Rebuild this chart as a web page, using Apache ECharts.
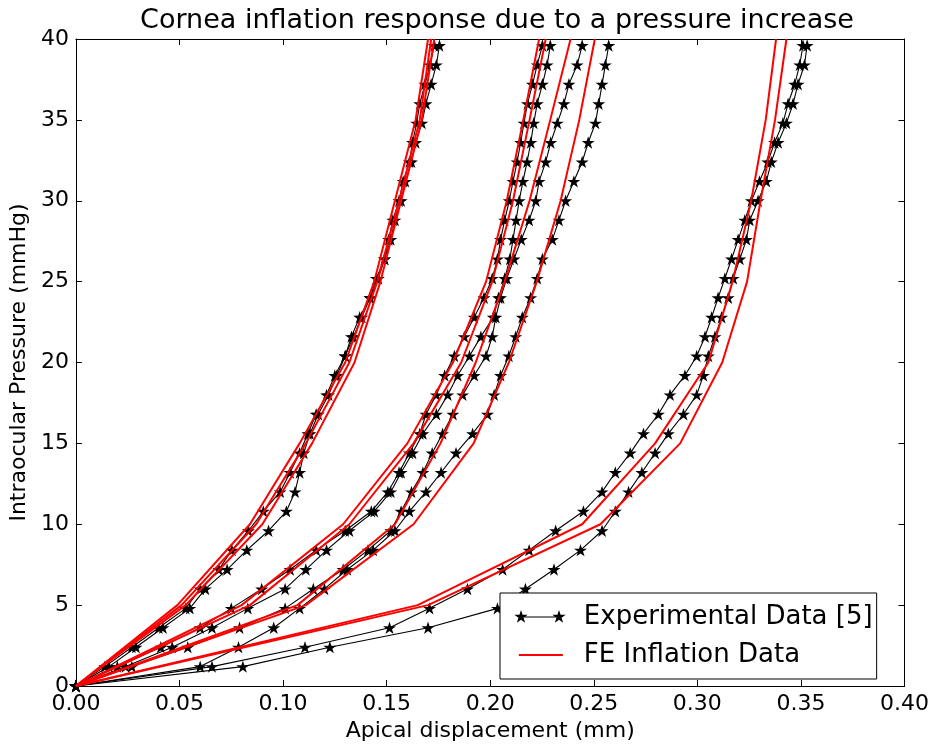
<!DOCTYPE html>
<html>
<head>
<meta charset="utf-8">
<title>Cornea inflation response</title>
<script src="https://cdn.jsdelivr.net/npm/echarts@6/dist/echarts.min.js"></script>
<style>
    html, body { margin: 0; padding: 0; background: #fff; }
    #chart { width: 932px; height: 747px; }
</style>
</head>
<body>
<div id="chart"></div>
<script>
// pressure steps of the experimental curves (mmHg)
const pressureLevels = [0, 1.2, 2.4, 3.6, 4.8, 6.0, 7.2, 8.4, 9.6, 10.8, 12.0, 13.2, 14.4, 15.6,
    16.8, 18.0, 19.2, 20.4, 21.6, 22.8, 24.0, 25.2, 26.4, 27.6, 28.8, 30.0, 31.2, 32.4, 33.6,
    34.8, 36.0, 37.2, 38.4, 39.6];

// experimental apical displacement (mm), one array per curve
const expA1 = [0, 0.014, 0.027, 0.040, 0.053, 0.060, 0.069, 0.0753, 0.0833, 0.0905, 0.0986, 0.1034,
    0.108, 0.112, 0.116, 0.121, 0.125, 0.130, 0.133, 0.137, 0.142, 0.145, 0.149, 0.151, 0.153,
    0.156, 0.158, 0.161, 0.1625, 0.1645, 0.166, 0.1685, 0.171, 0.173];
const expA2 = [0, 0.016, 0.029, 0.042, 0.055, 0.0625, 0.073, 0.0825, 0.093, 0.1016, 0.1058, 0.108,
    0.110, 0.113, 0.117, 0.122, 0.126, 0.130, 0.134, 0.138, 0.142, 0.146, 0.149, 0.152, 0.154,
    0.157, 0.159, 0.162, 0.164, 0.167, 0.169, 0.1715, 0.174, 0.1755];
const expB1 = [0, 0.020, 0.041, 0.060, 0.075, 0.0897, 0.1034, 0.116, 0.130, 0.1426, 0.1506, 0.156,
    0.161, 0.166, 0.169, 0.174, 0.178, 0.1827, 0.1875, 0.1923, 0.197, 0.201, 0.2035, 0.205, 0.207,
    0.2092, 0.211, 0.213, 0.2147, 0.2163, 0.218, 0.2204, 0.2227, 0.2252];
const expB2 = [0, 0.024, 0.0465, 0.0657, 0.083, 0.101, 0.111, 0.121, 0.132, 0.144, 0.152, 0.157,
    0.1625, 0.1675, 0.174, 0.1795, 0.1843, 0.190, 0.1955, 0.2015, 0.204, 0.207, 0.2095, 0.211,
    0.2125, 0.214, 0.2158, 0.2178, 0.2196, 0.221, 0.2227, 0.2252, 0.2275, 0.229];
const expB3 = [0, 0.027, 0.054, 0.079, 0.101, 0.1146, 0.129, 0.141, 0.152, 0.157, 0.162, 0.1675,
    0.172, 0.177, 0.182, 0.1867, 0.1923, 0.198, 0.201, 0.2027, 0.205, 0.208, 0.2115, 0.215,
    0.2188, 0.222, 0.2236, 0.2268, 0.2292, 0.2324, 0.2356, 0.238, 0.242, 0.2444];
const expB4 = [0, 0.060, 0.0785, 0.0955, 0.108, 0.120, 0.131, 0.1435, 0.154, 0.161, 0.169, 0.1763,
    0.1835, 0.1915, 0.1987, 0.2019, 0.205, 0.209, 0.2123, 0.2155, 0.2195, 0.2227, 0.2252, 0.230,
    0.2332, 0.2364, 0.2404, 0.2444, 0.2473, 0.2508, 0.2524, 0.254, 0.2556, 0.2572];
const expC1 = [0, 0.0657, 0.1106, 0.1514, 0.1707, 0.189, 0.206, 0.2188, 0.2316, 0.245, 0.254, 0.2604,
    0.2676, 0.274, 0.2812, 0.2868, 0.294, 0.2997, 0.3037, 0.3069, 0.310, 0.3133, 0.3165, 0.3197,
    0.3229, 0.3261, 0.330, 0.334, 0.3373, 0.3413, 0.3438, 0.347, 0.3494, 0.351];
const expC2 = [0, 0.0806, 0.1226, 0.170, 0.2035, 0.217, 0.2308, 0.2436, 0.254, 0.2604, 0.2668, 0.2732,
    0.2796, 0.286, 0.2933, 0.2997, 0.3029, 0.3053, 0.3085, 0.3117, 0.3149, 0.3173, 0.3205, 0.3237,
    0.3253, 0.3293, 0.3333, 0.3357, 0.339, 0.343, 0.3462, 0.3486, 0.3517, 0.353];

// FE model output, sampled every 5 mmHg
const feLevels = [0, 5, 10, 15, 20, 25, 30, 35, 40];
const feA1 = [0, 0.049, 0.084, 0.108, 0.130, 0.144, 0.154, 0.164, 0.170];
const feA2 = [0, 0.051, 0.087, 0.111, 0.132, 0.1455, 0.156, 0.166, 0.1715];
const feA3 = [0, 0.053, 0.090, 0.114, 0.1345, 0.147, 0.157, 0.167, 0.173];
const feB1 = [0, 0.080, 0.129, 0.160, 0.182, 0.198, 0.208, 0.216, 0.2236];
const feB2 = [0, 0.084, 0.132, 0.163, 0.186, 0.201, 0.211, 0.219, 0.2268];
const feB3 = [0, 0.107, 0.154, 0.176, 0.193, 0.207, 0.219, 0.229, 0.2388];
const feB4 = [0, 0.111, 0.163, 0.192, 0.209, 0.2225, 0.234, 0.243, 0.2505];
const feC1 = [0, 0.165, 0.2444, 0.2796, 0.3053, 0.317, 0.326, 0.333, 0.338];
const feC2 = [0, 0.170, 0.2532, 0.2917, 0.312, 0.324, 0.3305, 0.3375, 0.343];

const xTicks = [0, 0.05, 0.10, 0.15, 0.20, 0.25, 0.30, 0.35, 0.40];
const yTicks = [0, 5, 10, 15, 20, 25, 30, 35, 40];

const EXP_NAME = 'Experimental Data [5]';
const FE_NAME = 'FE Inflation Data';
const FONT = 'DejaVu Sans';

/**
 * 五角星路径，matplotlib 的 '*' marker
 */
function starPath(cx, cy, R) {
    const r = R * 0.382;
    let d = '';
    for (let k = 0; k < 10; k++) {
        const rad = k % 2 === 0 ? R : r;
        const a = (-90 + k * 36) * Math.PI / 180;
        const px = (cx + rad * Math.cos(a)).toFixed(3);
        const py = (cy + rad * Math.sin(a)).toFixed(3);
        d += (k === 0 ? 'M' : 'L') + px + ' ' + py + ' ';
    }
    return d + 'Z ';
}

const starSymbol = 'path://' + starPath(10, 10, 10);
// legend samples: star - line - star, and a plain red line
// (tiny triangles at top/bottom keep the path box the full icon height)
const boxKeep = 'M0 0 L0.01 0 L0.01 0.01 Z M0 14 L0.01 14 L0.01 13.99 Z ';
const legendStarIcon = 'path://' + boxKeep + starPath(7, 7, 7) + starPath(45, 7, 7)
    + 'M7 6.4 L45 6.4 L45 7.6 L7 7.6 Z';
const legendLineIcon = 'path://' + boxKeep + 'M2 6 L46 6 L46 8 L2 8 Z';

function drawChart() {
    const chart = echarts.init(document.getElementById('chart'), null, { renderer: 'canvas' });

    const seriesList = [];
    [expA1, expA2, expB1, expB2, expB3, expB4, expC1, expC2].forEach(xs => {
        seriesList.push({
            name: EXP_NAME,
            type: 'line',
            data: xs.map((x, i) => [x, pressureLevels[i]]),
            symbol: starSymbol,
            symbolSize: 13,
            symbolKeepAspect: true,
            showAllSymbol: true,
            lineStyle: { color: '#000', width: 1.1 },
            itemStyle: { color: '#000' },
            emphasis: { disabled: true },
            z: 2,
        });
    });
    [feA1, feA2, feA3, feB1, feB2, feB3, feB4, feC1, feC2].forEach(xs => {
        seriesList.push({
            name: FE_NAME,
            type: 'line',
            data: xs.map((x, i) => [x, feLevels[i]]),
            symbol: 'none',
            lineStyle: { color: '#ff0000', width: 2 },
            itemStyle: { color: '#ff0000' },
            emphasis: { disabled: true },
            z: 3,
        });
    });

    const tickLabel = { color: '#000', fontFamily: FONT, fontSize: 22 };
    const frameLine = { show: true, onZero: false, lineStyle: { color: '#000', width: 1 } };
    const tickIn = { show: true, inside: true, length: 6, lineStyle: { color: '#000', width: 1 } };
    const nameStyle = { color: '#000', fontFamily: FONT, fontSize: 22 };

    const option = {
        animation: false,
        backgroundColor: '#fff',
        title: {
            text: 'Cornea inflation response due to a pressure increase',
            left: 492,
            top: 2,
            textAlign: 'center',
            textStyle: { color: '#000', fontFamily: FONT, fontSize: 27, fontWeight: 'normal' },
        },
        grid: { left: 75, right: 25, top: 39, bottom: 60 },
        legend: {
            data: [
                { name: EXP_NAME, icon: legendStarIcon },
                { name: FE_NAME, icon: legendLineIcon },
            ],
            orient: 'vertical',
            left: 500,
            top: 593,
            padding: [11, 4, 11, 14],
            itemGap: 12,
            itemWidth: 52,
            itemHeight: 14,
            borderColor: '#000',
            borderWidth: 1,
            borderRadius: 0,
            backgroundColor: '#fff',
            textStyle: { color: '#000', fontFamily: FONT, fontSize: 26, padding: [0, 0, 0, 13] },
            selectedMode: false,
        },
        xAxis: [
            {
                type: 'value',
                min: xTicks[0],
                max: xTicks[xTicks.length - 1],
                interval: 0.05,
                name: 'Apical displacement (mm)',
                nameLocation: 'middle',
                nameGap: 34,
                nameTextStyle: nameStyle,
                axisLine: frameLine,
                axisTick: tickIn,
                axisLabel: Object.assign({ margin: 7, formatter: v => v.toFixed(2) }, tickLabel),
                splitLine: { show: false },
            },
            {
                type: 'value',
                position: 'top',
                min: xTicks[0],
                max: xTicks[xTicks.length - 1],
                interval: 0.05,
                axisLine: frameLine,
                axisTick: tickIn,
                axisLabel: { show: false },
                splitLine: { show: false },
            },
        ],
        yAxis: [
            {
                type: 'value',
                min: yTicks[0],
                max: yTicks[yTicks.length - 1],
                interval: 5,
                name: 'Intraocular Pressure (mmHg)',
                nameLocation: 'middle',
                nameGap: 43,
                nameTextStyle: nameStyle,
                axisLine: frameLine,
                axisTick: tickIn,
                axisLabel: Object.assign({ margin: 7 }, tickLabel),
                splitLine: { show: false },
            },
            {
                type: 'value',
                position: 'right',
                min: yTicks[0],
                max: yTicks[yTicks.length - 1],
                interval: 5,
                axisLine: frameLine,
                axisTick: tickIn,
                axisLabel: { show: false },
                splitLine: { show: false },
            },
        ],
        series: seriesList,
    };

    chart.setOption(option);
    return chart;
}

drawChart();
</script>
</body>
</html>
